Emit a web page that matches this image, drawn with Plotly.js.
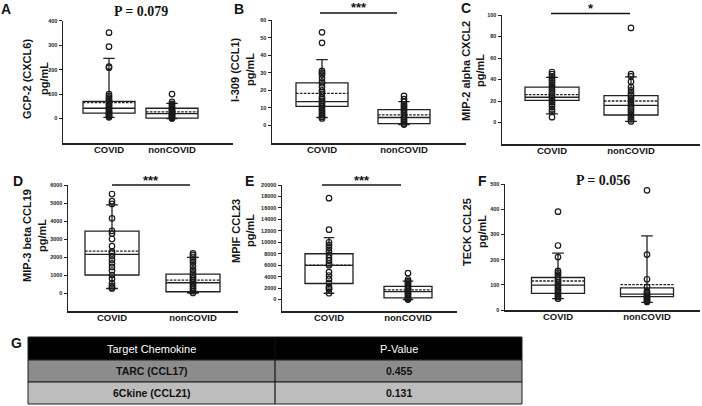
<!DOCTYPE html>
<html>
<head>
<meta charset="utf-8">
<script src="https://cdn.plot.ly/plotly-3.0.1.min.js"></script>
<style>
  html, body { margin: 0; padding: 0; background: #fff; }
  #chart { width: 702px; height: 406px; }
</style>
</head>
<body>
<div id="chart"></div>
<script>
// Group labels shared by every panel
const groups = ['COVID', 'nonCOVID'];

// A: GCP-2 (CXCL6), pg/mL
const gcp2Covid    = [351, 294, 212, 208, 100, 92, 85, 78, 72, 66, 60, 55, 50, 45, 40, 35, 30, 25, 20, 16, 12, 8, 5];
const gcp2NonCovid = [100, 68, 60, 55, 48, 42, 38, 34, 30, 26, 22, 18, 14, 10, 6, 3, 0];
const gcp2Box = { q1: [22, 2], median: [42, 20], q3: [70, 42], mean: [65, 27], lowerfence: [5, 0], upperfence: [246, 62] };
const gcp2Ticks = [0, 100, 200, 300, 400];

// B: I-309 (CCL1), pg/mL
const i309Covid    = [53, 47, 31, 30, 29, 27, 25, 24, 22, 20, 19, 18, 16, 15, 14, 13, 12, 11, 10, 9, 8, 7, 6, 5, 4];
const i309NonCovid = [16.8, 15, 13.5, 12, 11, 10, 9, 8, 7, 6, 5, 4, 3, 2, 1, 0.5];
const i309Box = { q1: [10.8, 1], median: [13.6, 4.5], q3: [24.2, 9], mean: [18.2, 6], lowerfence: [4.5, 0.5], upperfence: [37.5, 13.5] };
const i309Ticks = [0, 10, 20, 30, 40, 50, 60];

// C: MIP-2 alpha CXCL2, pg/mL
const mip2Covid    = [47, 45, 43, 41, 39, 37, 35, 33, 31, 29, 27, 25, 23, 21, 19, 17, 15, 12, 10, 5];
const mip2NonCovid = [88, 45, 43, 38, 33, 30, 27, 25, 23, 21, 19, 17, 15, 13, 11, 9, 7, 5, 3, 1];
const mip2Box = { q1: [20.6, 7], median: [23.5, 16], q3: [33, 25], mean: [26, 20], lowerfence: [8, 1], upperfence: [42, 42.5] };
const mip2Ticks = [0, 20, 40, 60, 80, 100];

// D: MIP-3 beta CCL19, pg/mL
const mip3Covid    = [5500, 5100, 4950, 4150, 3450, 3300, 3000, 2600, 2300, 2200, 2050, 1850, 1650, 1450, 1250, 1000, 800, 550, 400, 300, 250];
const mip3NonCovid = [2200, 2100, 2000, 1850, 1700, 1500, 1300, 1150, 1000, 900, 800, 700, 600, 500, 400, 300, 200, 100, 0];
const mip3Box = { q1: [1000, 70], median: [2150, 570], q3: [3440, 1050], mean: [2330, 720], lowerfence: [250, 0], upperfence: [4900, 1980] };
const mip3Ticks = [0, 1000, 2000, 3000, 4000, 5000, 6000];

// E: MPIF CCL23, pg/mL
const mpifCovid    = [17700, 12200, 10000, 9500, 9000, 8400, 7800, 7300, 6800, 6300, 6000, 4800, 4200, 3600, 2900, 2200, 2000, 1800, 1100];
const mpifNonCovid = [4600, 3500, 3200, 3000, 2800, 2500, 2300, 2000, 1800, 1500, 1200, 1000, 800, 500, 300, 100, 0];
const mpifBox = { q1: [2800, 300], median: [5950, 1400], q3: [8000, 2300], mean: [6000, 1700], lowerfence: [1100, 0], upperfence: [10800, 3200] };
const mpifTicks = [0, 2000, 4000, 6000, 8000, 10000, 12000, 14000, 16000, 18000, 20000];

// F: TECK CCL25, pg/mL
const teckCovid    = [390, 256, 210, 155, 148, 140, 132, 125, 118, 110, 102, 95, 88, 80, 72, 65, 58, 52, 45];
const teckNonCovid = [475, 220, 122, 92, 75, 68, 62, 57, 52, 47, 42, 37, 32];
const teckBox = { q1: [66, 53], median: [99, 63], q3: [129, 88], mean: [115, 101], lowerfence: [45, 30], upperfence: [226, 294] };
const teckTicks = [0, 100, 200, 300, 400, 500];

// G: chemokines without a significant difference
const tableHeader = ['Target Chemokine', 'P-Value'];
const tableChemokines = ['TARC (CCL17)', '6Ckine (CCL21)'];
const tablePValues = ['0.455', '0.131'];

const W = 702, H = 406;
const SANS = 'Liberation Sans, Arial, sans-serif';
const SERIF = 'Liberation Serif, Times New Roman, serif';
const INK = '#151515';

// Panel placement in pixels: axis box, box centres, box width, title spots
const panels = [
  { letter: 'A', name: 'GCP-2 (CXCL6)', covid: gcp2Covid, non: gcp2NonCovid, box: gcp2Box, ticks: gcp2Ticks, yRange: [-100, 400],
    g: { left: 63, right: 233, top: 20.7, bottom: 143, c0: 109, c1: 172, w: 52 },
    titleAt: [27, 44, 79], letterAt: [6, 9], sig: { kind: 'p', text: 'P = 0.079', y: 11 } },
  { letter: 'B', name: 'I-309 (CCL1)', covid: i309Covid, non: i309NonCovid, box: i309Box, ticks: i309Ticks, yRange: [-10, 60],
    g: { left: 272, right: 466, top: 20, bottom: 143, c0: 322, c1: 404, w: 52 },
    titleAt: [235, 250, 70], letterAt: [239, 9], sig: { kind: 'star', text: '***', y: 13, x0: 320, x1: 397 } },
  { letter: 'C', name: 'MIP-2 alpha CXCL2', covid: mip2Covid, non: mip2NonCovid, box: mip2Box, ticks: mip2Ticks, yRange: [-20, 100],
    g: { left: 502, right: 700, top: 15, bottom: 144, c0: 552, c1: 631, w: 54 },
    titleAt: [466, 480, 71], letterAt: [466, 8], sig: { kind: 'star', text: '*', y: 13.5, x0: 551, x1: 630 } },
  { letter: 'D', name: 'MIP-3 beta CCL19', covid: mip3Covid, non: mip3NonCovid, box: mip3Box, ticks: mip3Ticks, yRange: [-1000, 6000],
    g: { left: 68, right: 238, top: 185, bottom: 311, c0: 112, c1: 193, w: 54 },
    titleAt: [27, 42, 236], letterAt: [18, 181], sig: { kind: 'star', text: '***', y: 185, x0: 112, x1: 190 } },
  { letter: 'E', name: 'MPIF CCL23', covid: mpifCovid, non: mpifNonCovid, box: mpifBox, ticks: mpifTicks, yRange: [-2000, 20000],
    g: { left: 282, right: 457, top: 185, bottom: 311, c0: 329, c1: 408, w: 48 },
    titleAt: [236, 250, 231], letterAt: [249, 181], sig: { kind: 'star', text: '***', y: 185, x0: 322, x1: 401 } },
  { letter: 'F', name: 'TECK CCL25', covid: teckCovid, non: teckNonCovid, box: teckBox, ticks: teckTicks, yRange: [0, 500],
    g: { left: 505, right: 700, top: 184, bottom: 310, c0: 558, c1: 647, w: 53 },
    titleAt: [467, 482, 232], letterAt: [482, 181], sig: { kind: 'p', text: 'P = 0.056', y: 181 } }
];

const traces = [];
const layout = {
  width: W, height: H,
  margin: { l: 0, r: 0, t: 0, b: 0 },
  paper_bgcolor: '#ffffff', plot_bgcolor: 'rgba(0,0,0,0)',
  showlegend: false,
  annotations: [], shapes: []
};

const px2x = (v) => v / W;
const px2y = (v) => (H - v) / H;

const label = (x, y, text, font, extra) => Object.assign({
  xref: 'paper', yref: 'paper', x: px2x(x), y: px2y(y),
  xanchor: 'center', yanchor: 'middle', showarrow: false, text, font
}, extra || {});

panels.forEach((p, i) => {
  const n = i === 0 ? '' : String(i + 1);
  const xa = 'x' + n, ya = 'y' + n;
  const g = p.g;
  const unit = g.c1 - g.c0;
  const toCat = (v) => (v - g.c0) / unit;

  layout['xaxis' + n] = {
    domain: [px2x(g.left), px2x(g.right)],
    anchor: ya,
    type: 'category',
    categoryorder: 'array', categoryarray: groups,
    range: [toCat(g.left), toCat(g.right)],
    showline: true, linecolor: '#222', linewidth: 1.5,
    ticks: '', showgrid: false, zeroline: false,
    ticklabelstandoff: -3,
    tickfont: { family: SANS, size: 9.5, color: INK, weight: 'bold' },
    fixedrange: true
  };
  layout['yaxis' + n] = {
    domain: [px2y(g.bottom), px2y(g.top)],
    anchor: xa,
    range: p.yRange,
    tickvals: p.ticks,
    ticktext: p.ticks.map(String),
    showline: true, linecolor: '#222', linewidth: 1.5,
    ticks: 'outside', ticklen: 3, tickwidth: 1, tickcolor: '#222',
    tickfont: { family: SANS, size: 5.5, color: '#222', weight: 'bold' },
    showgrid: false, zeroline: false, fixedrange: true
  };

  // Box with 10th/90th whiskers and dashed mean line
  traces.push({
    type: 'box', orientation: 'v', xaxis: xa, yaxis: ya,
    x: groups,
    q1: p.box.q1, median: p.box.median, q3: p.box.q3, mean: p.box.mean,
    lowerfence: p.box.lowerfence, upperfence: p.box.upperfence,
    boxmean: true, boxpoints: false,
    width: g.w / unit, whiskerwidth: 0.22,
    fillcolor: 'rgba(255,255,255,0)',
    line: { color: '#222', width: 1.3 },
    hoverinfo: 'skip'
  });

  // Individual samples, stacked on the box centre line
  [p.covid, p.non].forEach((vals, k) => {
    traces.push({
      type: 'scatter', mode: 'markers', xaxis: xa, yaxis: ya,
      x: vals.map(() => groups[k]), y: vals,
      marker: { symbol: 'circle-open', size: 5.5, color: '#1a1a1a', line: { width: 1.2 } },
      hoverinfo: 'skip'
    });
  });

  // Axis title: analyte name, then unit
  const tFont = { family: SANS, size: 11, color: INK, weight: 'bold' };
  layout.annotations.push(label(p.titleAt[0], p.titleAt[2], p.name, tFont, { textangle: -90 }));
  layout.annotations.push(label(p.titleAt[1], p.titleAt[2], 'pg/mL', tFont, { textangle: -90 }));

  // Panel letter
  layout.annotations.push(label(p.letterAt[0], p.letterAt[1], p.letter,
    { family: SANS, size: 14, color: INK, weight: 'bold' }));

  // Significance marker
  if (p.sig.kind === 'star') {
    layout.shapes.push({
      type: 'line', xref: xa, yref: 'paper',
      x0: toCat(p.sig.x0), x1: toCat(p.sig.x1),
      y0: px2y(p.sig.y), y1: px2y(p.sig.y),
      line: { color: INK, width: 1.6 }
    });
    layout.annotations.push({
      xref: xa, yref: 'paper', x: toCat((p.sig.x0 + p.sig.x1) / 2), y: px2y(p.sig.y - 5),
      xanchor: 'center', yanchor: 'middle', showarrow: false,
      text: p.sig.text,
      font: { family: SANS, size: 13, color: INK, weight: 'bold' }
    });
  } else {
    layout.annotations.push({
      xref: xa, yref: 'paper', x: 0.5, y: px2y(p.sig.y),
      xanchor: 'center', yanchor: 'middle', showarrow: false,
      text: p.sig.text,
      font: { family: SERIF, size: 14, color: INK, weight: 'bold' }
    });
  }
});

// G: two-column summary table
layout.annotations.push(label(16, 343, 'G', { family: SANS, size: 14, color: INK, weight: 'bold' }));

const tbl = { left: 28, mid: 275, right: 522, rows: [337, 360, 382, 404] };
const tableRows = [tableHeader].concat(tableChemokines.map((c, r) => [c, tablePValues[r]]));
const rowFills = ['#000000', '#8c8c8c', '#bdbdbd'];
const colCentres = [(tbl.left + tbl.mid) / 2, (tbl.mid + tbl.right) / 2];

tableRows.forEach((row, r) => {
  const y0 = tbl.rows[r], y1 = tbl.rows[r + 1];
  layout.shapes.push({
    type: 'rect', xref: 'paper', yref: 'paper',
    x0: px2x(tbl.left), x1: px2x(tbl.right), y0: px2y(y1), y1: px2y(y0),
    fillcolor: rowFills[r], line: { color: '#1e1e1e', width: 1 }, layer: 'below'
  });
  row.forEach((txt, c) => {
    const isHead = r === 0;
    layout.annotations.push(label(colCentres[c], (y0 + y1) / 2, txt, {
      family: SANS, size: isHead ? 11 : 10.5, color: isHead ? '#ffffff' : '#111111',
      weight: isHead ? 'normal' : 'bold'
    }));
  });
});
layout.shapes.push({
  type: 'line', xref: 'paper', yref: 'paper',
  x0: px2x(tbl.mid), x1: px2x(tbl.mid), y0: px2y(tbl.rows[3]), y1: px2y(tbl.rows[0]),
  line: { color: '#111111', width: 1.2 }
});

Plotly.newPlot('chart', traces, layout, { staticPlot: true, displayModeBar: false });
</script>
</body>
</html>
